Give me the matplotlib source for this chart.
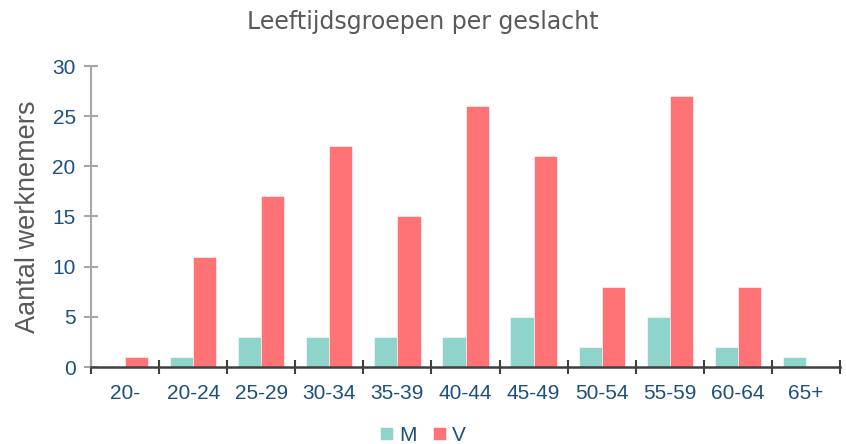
import matplotlib
matplotlib.use("Agg")
import matplotlib.pyplot as plt
import numpy as np

categories = ["20-", "20-24", "25-29", "30-34", "35-39", "40-44", "45-49", "50-54", "55-59", "60-64", "65+"]
m_values = [0, 1, 3, 3, 3, 3, 5, 2, 5, 2, 1]
v_values = [1, 11, 17, 22, 15, 26, 21, 8, 27, 8, 0]
yticks = [0, 5, 10, 15, 20, 25, 30]

plt.rcParams['font.family'] = ['Liberation Sans', 'DejaVu Sans']

c_m = "#8ED4CB"
c_v = "#FF7276"
tick_col = "#1C4F80"
gray = "#595959"

fig = plt.figure(figsize=(8.46, 4.44), dpi=100)
ax = fig.add_axes([91/846, 1-367/444, (840-91)/846, (367-66)/444])

x = np.arange(len(categories))
w = 0.34
ax.bar(x - w/2, m_values, w, color=c_m, label="M", edgecolor="white", linewidth=0.4)
ax.bar(x + w/2, v_values, w, color=c_v, label="V", edgecolor="white", linewidth=0.4)

ax.set_xlim(-0.5, len(categories) - 0.5)
ax.set_ylim(0, 30)
ax.set_yticks(yticks)
ax.set_xticks(x)
ax.set_xticklabels(categories)
ax.set_xticks(np.arange(-0.5, len(categories), 1), minor=True)
ax.tick_params(axis="x", which="major", length=0, pad=12, labelsize=15, labelcolor=tick_col)
ax.tick_params(axis="x", which="minor", length=10, direction="inout", color="#404040", width=1.5)
ax.tick_params(axis="y", length=10, direction="inout", color="#A6A6A6", width=1.5, labelsize=15, labelcolor=tick_col, pad=6)

for s in ["top", "right"]:
    ax.spines[s].set_visible(False)
ax.spines["left"].set_color("#A6A6A6")
ax.spines["left"].set_linewidth(1.5)
ax.spines["bottom"].set_color("#404040")
ax.spines["bottom"].set_linewidth(1.8)

ax.set_ylabel("Aantal werknemers", fontsize=19.5, color=gray, labelpad=8)
fig.text(0.5, 1-22/444, "Leeftijdsgroepen per geslacht", ha="center", va="center",
         fontsize=17, color=gray, family=["DejaVu Sans"])

fig.legend(loc="center", bbox_to_anchor=(0.5, 1-435/444), ncol=2, frameon=False,
           fontsize=15, labelcolor=tick_col, handlelength=0.6, handleheight=0.6,
           handletextpad=0.3, columnspacing=0.8)

fig.savefig("out.png", dpi=100)
